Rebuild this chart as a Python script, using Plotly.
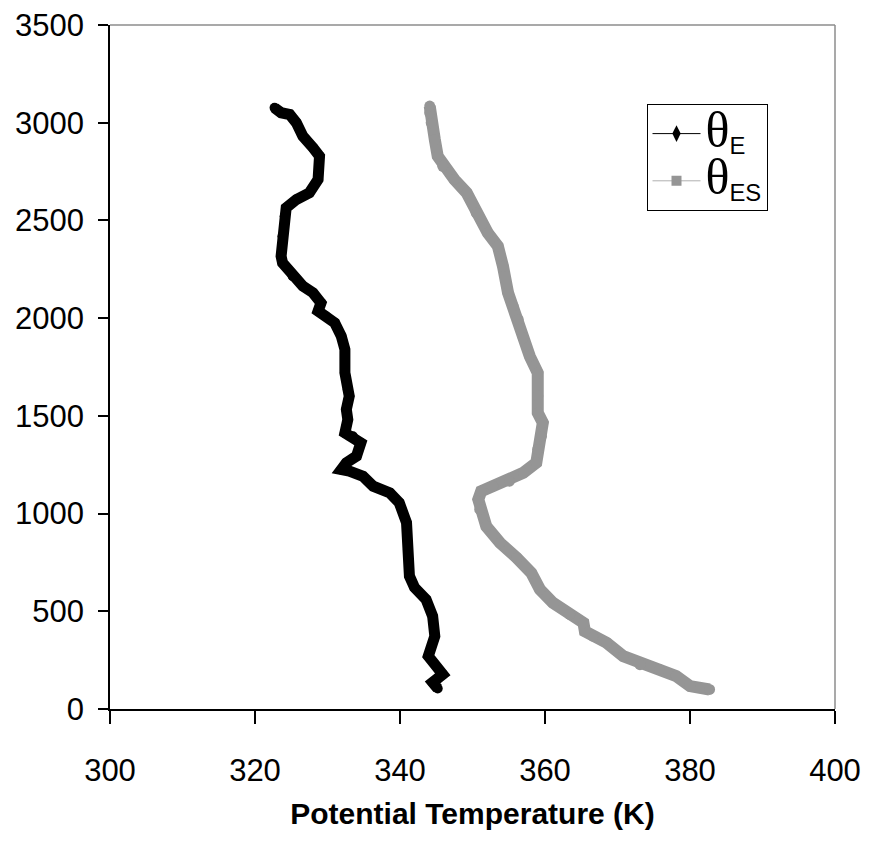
import plotly.graph_objects as go

# Equivalent potential temperature profile (theta_E) vs height
theta_e_k = [345.2, 344.5, 345.9, 343.9, 344.8, 344.5, 343.6, 342.0, 341.3, 341.1,
             340.9, 339.9, 338.6, 336.3, 334.9, 333.0, 331.9, 332.6, 334.0, 334.6,
             333.5, 332.4, 332.8, 332.6, 333.0, 332.8, 332.4, 332.4, 331.9, 331.0,
             329.8, 328.7, 329.1, 328.0, 326.6, 325.2, 323.8, 323.6, 323.8, 324.1,
             324.3, 325.7, 327.5, 328.7, 328.9, 328.0, 326.6, 325.7, 324.8, 323.6,
             322.7]
theta_e_h = [105, 136, 177, 270, 373, 475, 560, 622, 680, 816,
             954, 1055, 1106, 1140, 1191, 1217, 1225, 1260, 1294, 1362,
             1396, 1413, 1481, 1533, 1601, 1635, 1720, 1840, 1908, 1976,
             2010, 2036, 2078, 2130, 2164, 2215, 2283, 2317, 2419, 2522,
             2565, 2607, 2641, 2709, 2829, 2872, 2931, 3000, 3042, 3051,
             3076]

# Saturated equivalent potential temperature profile (theta_ES) vs height
theta_es_k = [382.7, 380.0, 378.1, 375.8, 373.1, 370.8, 368.5, 366.6, 365.5, 365.3,
              363.4, 361.1, 359.3, 358.1, 356.1, 353.8, 351.9, 351.0, 350.8, 351.2,
              352.8, 355.1, 357.0, 358.8, 359.0, 359.5, 359.7, 359.0, 359.0, 359.0,
              357.9, 357.0, 356.3, 355.6, 354.9, 354.2, 353.5, 352.1, 350.5, 349.2,
              347.5, 345.9, 345.2, 344.8, 344.3, 344.1, 344.1]
theta_es_h = [100, 117, 168, 202, 227, 270, 339, 373, 398, 441,
              484, 543, 612, 697, 774, 850, 935, 1021, 1072, 1114,
              1140, 1166, 1209, 1260, 1328, 1396, 1465, 1516, 1601, 1720,
              1805, 1900, 1993, 2061, 2130, 2266, 2368, 2437, 2539, 2641,
              2709, 2777, 2829, 2914, 3000, 3051, 3085]

x_ticks = [300, 320, 340, 360, 380, 400]
y_ticks = [0, 500, 1000, 1500, 2000, 2500, 3000, 3500]

SANS = "Liberation Sans, Arial, sans-serif"
BLACK = "#000000"
GREY = "#959595"

fig = go.Figure()

# Thick profile strokes; round dots at each vertex soften the joints
fig.add_trace(go.Scatter(x=theta_es_k, y=theta_es_h, mode="lines+markers",
                         line=dict(color=GREY, width=12),
                         marker=dict(symbol="circle", size=11, color=GREY, line=dict(width=0)),
                         showlegend=False, hoverinfo="skip"))
fig.add_trace(go.Scatter(x=theta_e_k, y=theta_e_h, mode="lines+markers",
                         line=dict(color=BLACK, width=11),
                         marker=dict(symbol="circle", size=10, color=BLACK, line=dict(width=0)),
                         showlegend=False, hoverinfo="skip"))

# Legend entries (thin line + marker)
theta = '<span style="font-family:Liberation Serif, Times New Roman, serif;font-size:50px">θ</span>'
fig.add_trace(go.Scatter(x=[None], y=[None], mode="lines+markers",
                         name=theta + "<sub>E</sub>",
                         line=dict(color=BLACK, width=1),
                         marker=dict(symbol="diamond-tall", size=12, color=BLACK)))
fig.add_trace(go.Scatter(x=[None], y=[None], mode="lines+markers",
                         name=theta + "<sub>ES</sub>",
                         line=dict(color="#b0b0b0", width=1),
                         marker=dict(symbol="square", size=10, color=GREY)))

# Grey frame on the top and right of the plot area
fig.add_shape(type="line", xref="paper", yref="paper", x0=0, x1=1, y0=1, y1=1,
              line=dict(color="#8c8c8c", width=1.5))
fig.add_shape(type="line", xref="paper", yref="paper", x0=1, x1=1, y0=0, y1=1,
              line=dict(color="#8c8c8c", width=1.5))

fig.update_layout(
    width=876, height=845,
    margin=dict(l=110, r=41, t=25, b=136),
    paper_bgcolor="white", plot_bgcolor="white",
    font=dict(family=SANS, color=BLACK, size=31),
    legend=dict(x=0.740, y=0.8845, xanchor="left", yanchor="top",
                bordercolor=BLACK, borderwidth=1, bgcolor="white",
                font=dict(family=SANS, size=34),
                itemwidth=48),
)

fig.update_xaxes(range=[300, 400], tickvals=x_ticks, ticktext=[str(v) for v in x_ticks],
                 showgrid=False, zeroline=False, showline=True, automargin=False,
                 linecolor=BLACK, linewidth=1.5, ticks="outside", ticklen=13,
                 tickcolor=BLACK, tickwidth=1.5, ticklabelstandoff=20,
                 tickfont=dict(family=SANS, size=31),
                 title=dict(text="<b>Potential Temperature (K)</b>",
                            font=dict(family=SANS, size=30), standoff=16))
fig.update_yaxes(range=[0, 3500], tickvals=y_ticks, ticktext=[str(v) for v in y_ticks],
                 showgrid=False, zeroline=False, showline=True, automargin=False,
                 linecolor=BLACK, linewidth=1.5, ticks="outside", ticklen=10,
                 tickcolor=BLACK, tickwidth=1.5, ticklabelstandoff=8,
                 tickfont=dict(family=SANS, size=31))

fig.write_html("out.html")
